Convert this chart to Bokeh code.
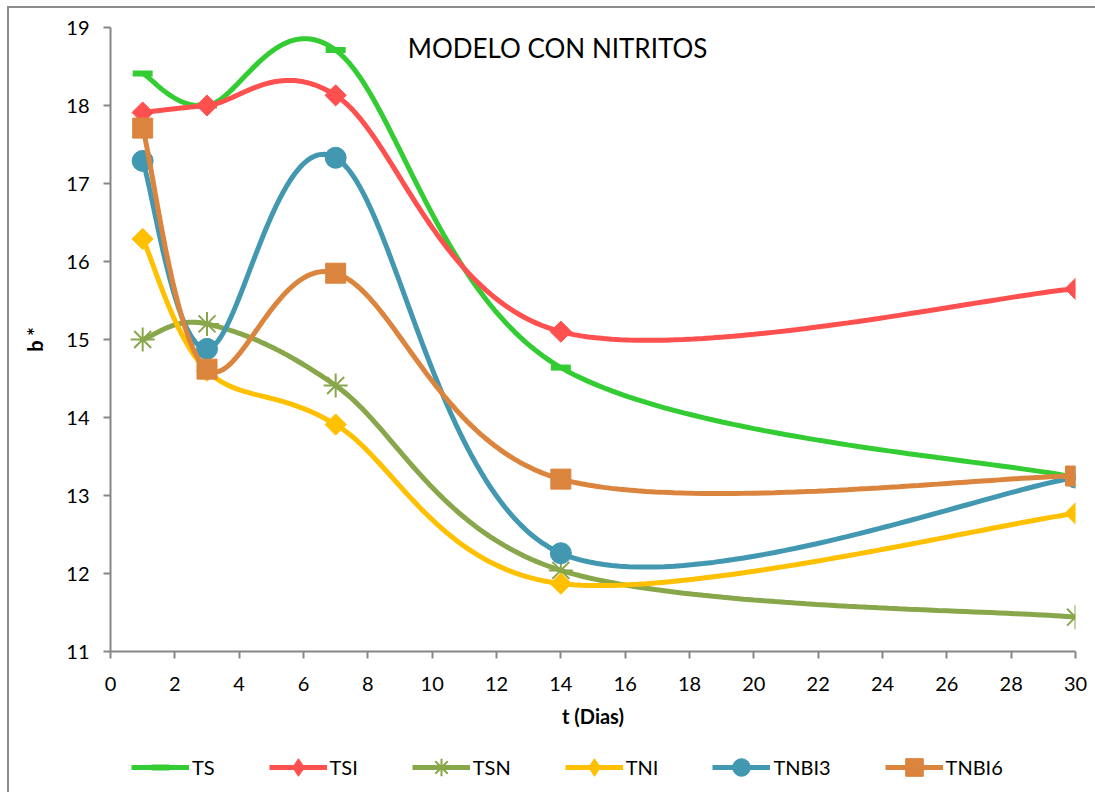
import numpy as np
from bokeh.plotting import figure
from bokeh.layouts import column
from bokeh.models import Legend, LegendItem, Label, FixedTicker, Range1d
from bokeh.embed import file_html
from bokeh.resources import INLINE

# Sampling days and b* values per treatment
dias = [1, 3, 7, 14, 30]
ts = [18.41, 18.00, 18.71, 14.64, 13.23]
tsi = [17.91, 18.00, 18.13, 15.10, 15.65]
tsn = [15.00, 15.20, 14.41, 12.04, 11.44]
tni = [16.29, 14.60, 13.91, 11.87, 12.77]
tnbi3 = [17.29, 14.88, 17.33, 12.26, 13.23]
tnbi6 = [17.71, 14.62, 15.85, 13.21, 13.25]

x_ticks = list(range(0, 31, 2))
y_ticks = list(range(11, 20))

FONT = "Lato"


def smooth(xs, ys, n=60):
    """Cubic Bezier smoothing through every point (Catmull-Rom style)."""
    p = np.column_stack([xs, ys]).astype(float)
    out = []
    m = len(p)
    t = np.linspace(0, 1, n)[:, None]
    for i in range(m - 1):
        p0 = p[i - 1] if i > 0 else p[i]
        p1, p2 = p[i], p[i + 1]
        p3 = p[i + 2] if i + 2 < m else p[i + 1]
        c1 = p1 + (p2 - p0) / 6.0
        c2 = p2 - (p3 - p1) / 6.0
        seg = ((1 - t) ** 3) * p1 + 3 * ((1 - t) ** 2) * t * c1 + 3 * (1 - t) * t ** 2 * c2 + t ** 3 * p2
        out.append(seg if i == 0 else seg[1:])
    s = np.vstack(out)
    return s[:, 0], s[:, 1]


p = figure(
    frame_width=965, frame_height=624,
    x_range=Range1d(0, 30), y_range=Range1d(11, 19),
    output_backend="svg", toolbar_location=None,
    min_border_left=101, min_border_right=20, min_border_top=19, min_border_bottom=91,
)
p.outline_line_color = None
p.grid.visible = False

for ax in (p.xaxis[0], p.yaxis[0]):
    ax.axis_line_color = "#868686"
    ax.axis_line_width = 2
    ax.major_tick_line_color = "#868686"
    ax.major_tick_line_width = 2
    ax.major_tick_out = 7
    ax.major_tick_in = 0
    ax.minor_tick_line_color = None
    ax.major_label_text_font = FONT
    ax.major_label_text_font_size = "20px"
    ax.major_label_text_color = "#000000"
    ax.axis_label_text_font = FONT
    ax.axis_label_text_font_size = "20px"
    ax.axis_label_text_font_style = "bold"
    ax.axis_label_text_color = "#000000"

p.xaxis.ticker = FixedTicker(ticks=x_ticks)
p.yaxis.ticker = FixedTicker(ticks=y_ticks)
p.xaxis.axis_label = "t (Dias)"
p.yaxis.axis_label = "b *"
p.xaxis.major_label_standoff = 18
p.yaxis.major_label_standoff = 14
p.xaxis.axis_label_standoff = 10
p.yaxis.axis_label_standoff = 16

# Strip underneath the chart that carries the legend; its ranges keep the
# series themselves out of view so only the legend keys show.
lf = figure(
    width=1086, height=50, x_range=Range1d(-100, -99), y_range=Range1d(-100, -99),
    output_backend="svg", toolbar_location=None,
    min_border_left=0, min_border_right=0, min_border_top=0, min_border_bottom=0,
)
lf.axis.visible = False
lf.grid.visible = False
lf.outline_line_color = None

series = [
    ("TS", ts, "#33cc33", "dash"),
    ("TSI", tsi, "#ff5050", "diamond"),
    ("TSN", tsn, "#88a64a", "asterisk"),
    ("TNI", tni, "#ffc000", "diamond"),
    ("TNBI3", tnbi3, "#4298b0", "circle"),
    ("TNBI6", tnbi6, "#db843d", "square"),
]


def add_marker(fig, xs, ys, color, marker, key=False):
    if marker == "dash":
        return fig.scatter(xs, ys, marker="dash", size=20, line_color=color, line_width=6)
    if marker == "diamond":
        if key:
            return fig.scatter(xs, ys, marker="diamond", size=20,
                               fill_color=color, line_color=color)
        return fig.scatter(xs, ys, marker="square", size=15, angle=np.pi / 4,
                           fill_color=color, line_color=color)
    if marker == "asterisk":
        return fig.scatter(xs, ys, marker="asterisk", size=24, line_color=color, line_width=2)
    if marker == "circle":
        return fig.scatter(xs, ys, marker="circle", size=21, fill_color=color, line_color=color)
    return fig.scatter(xs, ys, marker="square", size=20, fill_color=color, line_color=color)


items = []
for name, vals, color, marker in series:
    sx, sy = smooth(dias, vals)
    p.line(sx, sy, line_color=color, line_width=5)
    add_marker(p, dias, vals, color, marker)
    key_ln = lf.line(sx, sy, line_color=color, line_width=5)
    key_mk = add_marker(lf, dias, vals, color, marker, key=True)
    items.append(LegendItem(label=name, renderers=[key_ln, key_mk]))

legend = Legend(
    items=items, orientation="horizontal",
    label_text_font=FONT, label_text_font_size="20px", label_text_color="#000000",
    glyph_width=58, glyph_height=44, label_standoff=3, spacing=54,
    border_line_color=None, background_fill_alpha=0,
    margin=0, padding=0, location=(21, 3),
)
lf.add_layout(legend)

p.add_layout(Label(x=13.9, y=18.74, text="MODELO CON NITRITOS",
                   text_font=FONT, text_font_size="26px", text_color="#000000",
                   text_align="center", text_baseline="middle"))

page = column(
    p, lf, spacing=0,
    margin=(6, 0, 0, 7),
    styles={"border-left": "2px solid #8c8c8c", "border-top": "2px solid #8c8c8c"},
)

open("out.html", "w").write(file_html(page, INLINE))
